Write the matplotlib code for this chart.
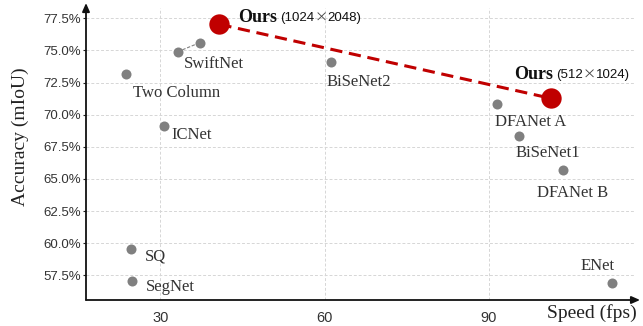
import matplotlib
matplotlib.use("Agg")
import matplotlib.pyplot as plt

# ---- data ----
ours_speed = [40.8, 101.3]
ours_acc = [77.03, 71.27]
ours_res = [("1024", "2048"), ("512", "1024")]

swift_speed = [33.2, 37.2]
swift_acc = [74.90, 75.60]

other_names = ["Two Column", "ICNet", "BiSeNet2", "DFANet A", "BiSeNet1",
               "DFANet B", "ENet", "SQ", "SegNet"]
other_speed = [23.7, 30.7, 61.1, 91.4, 95.5, 103.6, 112.5, 24.65, 24.8]
other_acc = [73.17, 69.14, 74.12, 70.83, 68.34, 65.69, 56.92, 59.52, 57.08]

xticks = [30, 60, 90]
yticks = [57.5, 60.0, 62.5, 65.0, 67.5, 70.0, 72.5, 75.0, 77.5]

# ---- style ----
SERIF = ["Liberation Serif", "DejaVu Serif"]
SANS = ["Liberation Sans", "DejaVu Sans"]
CJK = ["Noto Sans CJK SC", "DejaVu Sans"]
GRAY = "#808080"
RED = "#c00000"
TXT = "#333333"

W, H = 643, 326
fig = plt.figure(figsize=(W / 100, H / 100), dpi=100)
ax = fig.add_axes([86 / W, 26 / H, (634 - 86) / W, (300 - 8) / H])
ax.set_xlim(16.44, 116.47)
ax.set_ylim(55.58, 78.30)

for s in ax.spines.values():
    s.set_visible(False)

ax.set_xticks(xticks)
ax.set_yticks(yticks)
ax.set_xticklabels([str(t) for t in xticks], fontfamily=SANS, fontsize=10.5, color=TXT)
ax.set_yticklabels([f"{t:.1f}%" for t in yticks], fontfamily=SANS, fontsize=9.5, color=TXT)
ax.tick_params(axis="x", length=0, pad=8)
ax.tick_params(axis="y", length=2.5, width=0.8, pad=1, color="#222222")
ax.grid(True, linestyle=(0, (3, 2)), color="#d6d6d6", linewidth=0.7)
ax.set_axisbelow(True)

# axes arrows
arrow = dict(arrowstyle="-|>,head_length=0.5,head_width=0.22", color="#111111",
             lw=1.3, shrinkA=0, shrinkB=0)
ax.annotate("", xy=(1.011, 0), xytext=(0, 0), xycoords="axes fraction",
            arrowprops=arrow, annotation_clip=False)
ax.annotate("", xy=(0, 1.017), xytext=(0, 0), xycoords="axes fraction",
            arrowprops=arrow, annotation_clip=False)

# connecting lines
ax.plot(ours_speed, ours_acc, color=RED, lw=2.2, dashes=(4, 2.2), zorder=2)
ax.plot(swift_speed, swift_acc, color=GRAY, lw=0.8, dashes=(3, 1.5), zorder=2)

# points
ax.scatter(other_speed, other_acc, s=52, color=GRAY, zorder=3, linewidths=0)
ax.scatter(swift_speed, swift_acc, s=52, color=GRAY, zorder=3, linewidths=0)
ax.scatter(ours_speed, ours_acc, s=215, color=RED, zorder=4, linewidths=0)

# labels (offsets in pixels -> points)
px = 0.72
FS = 12
label_offsets = {
    "Two Column": (7, -19),
    "ICNet": (7, -9),
    "BiSeNet2": (-4, -20),
    "DFANet A": (-2, -18),
    "BiSeNet1": (-4, -17),
    "DFANet B": (-26, -23),
    "ENet": (-32, 17),
    "SQ": (14, -7),
    "SegNet": (14, -6),
}
for name, xs, ys in zip(other_names, other_speed, other_acc):
    dx, dy = label_offsets[name]
    ax.annotate(name, (xs, ys), xytext=(dx * px, dy * px), textcoords="offset points",
                ha="left", va="center", fontfamily=SERIF, fontsize=FS, color=TXT)

ax.annotate("SwiftNet", (swift_speed[0], swift_acc[0]), xytext=(6 * px, -12 * px),
            textcoords="offset points", ha="left", va="center",
            fontfamily=SERIF, fontsize=FS, color=TXT)

ours_offsets = [(19, 7), (-37, 24)]
for xs, ys, (r1, r2), (dx, dy) in zip(ours_speed, ours_acc, ours_res, ours_offsets):
    t = ax.annotate("Ours", (xs, ys), xytext=(dx * px, dy * px), textcoords="offset points",
                    ha="left", va="center", fontfamily=SERIF, fontsize=13,
                    fontweight="bold", color="#111111")
    t1 = ax.annotate("(" + r1, xy=(1, 0.45), xycoords=t, xytext=(2, 0),
                     textcoords="offset points", ha="left", va="center",
                     fontfamily=SANS, fontsize=9.5, color="#111111")
    t2 = ax.annotate("×", xy=(1, 0.5), xycoords=t1, xytext=(0, 0),
                     textcoords="offset points", ha="left", va="center",
                     fontfamily=CJK, fontsize=9.5, color="#444444")
    ax.annotate(r2 + ")", xy=(1, 0.5), xycoords=t2, xytext=(0, 0),
                textcoords="offset points", ha="left", va="center",
                fontfamily=SANS, fontsize=9.5, color="#111111")

fig.text(20 / W, 1 - 137 / H, "Accuracy (mIoU)", rotation=90, ha="center", va="center",
         fontfamily=SERIF, fontsize=14, color="#222222")
fig.text(592 / W, 1 - 313 / H, "Speed (fps)", ha="center", va="center",
         fontfamily=SERIF, fontsize=14, color="#222222")

fig.savefig("out.png", dpi=100)
